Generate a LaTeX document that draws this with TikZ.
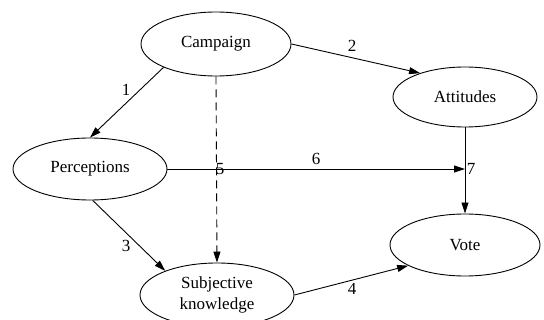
\documentclass[tikz,border=0pt]{standalone}
\usepackage{fontspec}
\setmainfont{Liberation Serif}
\usetikzlibrary{arrows.meta,shapes.geometric}
\begin{document}
\begin{tikzpicture}[x=1pt,y=-1pt,
  ov/.style={draw,ellipse,line width=0.9pt,inner sep=0pt,align=center,font=\fontsize{17}{19}\selectfont},
  arr/.style={line width=0.9pt,-{Triangle[length=11pt,width=7pt]}},
  lab/.style={font=\fontsize{17}{19}\selectfont,inner sep=0pt}]
\useasboundingbox (0,0) rectangle (544,320);
\node[ov,minimum width=150pt,minimum height=64pt] (camp) at (216,44) {Campaign};
\node[ov,minimum width=144pt,minimum height=60pt] (att) at (465,97) {Attitudes};
\node[ov,minimum width=154pt,minimum height=62pt] (perc) at (90,169) {Perceptions};
\node[ov,minimum width=150pt,minimum height=62pt] (vote) at (465,245) {Vote};
\node[ov,minimum width=154pt,minimum height=64pt,font=\fontsize{17}{21}\selectfont] (sk) at (217,295) {Subjective\\knowledge};
\coordinate (j) at (att.south |- perc.east);
\draw[arr] (camp.204) -- (perc.north);
\draw[arr] (camp.east) -- (att.152);
\draw[arr] (perc.-85) -- (sk.155);
\draw[arr] (sk.east) -- (vote.200);
\draw[arr,dashed,dash pattern=on 8pt off 5pt] (camp.south) -- (sk.north);
\draw[arr] (perc.east) -- (j);
\draw[arr] (att.south) -- (vote.north);
\node[lab] (l1) at (126,90) {1};
\node[lab] (l2) at (352,46) {2};
\node[lab] (l3) at (126,246) {3};
\node[lab] (l4) at (352,289) {4};
\node[lab] (l5) at (220,169) {5};
\node[lab] (l6) at (316,159) {6};
\node[lab] (l7) at (471,169) {7};
\end{tikzpicture}
\end{document}
